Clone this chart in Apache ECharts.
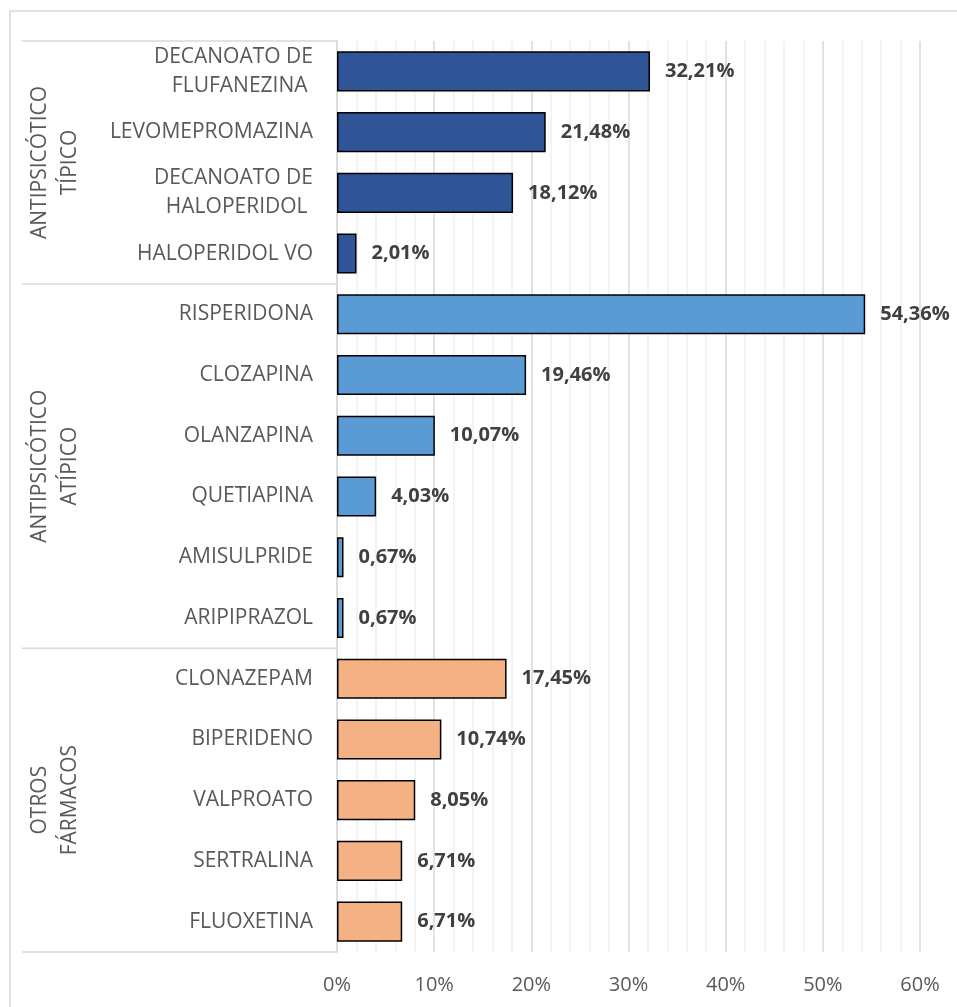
<!DOCTYPE html>
<html>
<head>
<meta charset="utf-8">
<script src="https://cdn.jsdelivr.net/npm/echarts@6/dist/echarts.min.js"></script>
<style>
  html, body { margin: 0; padding: 0; background: #fff; }
  #chart { width: 957px; height: 1007px; }
</style>
</head>
<body>
<div id="chart"></div>
<script>
  // categorias y valores (%)
  var categories = [
    'DECANOATO DE\nFLUFANEZINA ', 'LEVOMEPROMAZINA', 'DECANOATO DE\nHALOPERIDOL ', 'HALOPERIDOL VO',
    'RISPERIDONA', 'CLOZAPINA', 'OLANZAPINA', 'QUETIAPINA', 'AMISULPRIDE', 'ARIPIPRAZOL',
    'CLONAZEPAM', 'BIPERIDENO', 'VALPROATO', 'SERTRALINA', 'FLUOXETINA'
  ]
  var values = [32.21, 21.48, 18.12, 2.01, 54.36, 19.46, 10.07, 4.03, 0.67, 0.67, 17.45, 10.74, 8.05, 6.71, 6.71]
  // grupos: nombre, numero de categorias
  var groupNames = ['ANTIPSICÓTICO\nTÍPICO', 'ANTIPSICÓTICO\nATÍPICO', 'OTROS\nFÁRMACOS']
  var groupSizes = [4, 6, 5]
  var groupColors = ['#2F5597', '#5B9BD5', '#F4B183']
  var xTicks = [0, 10, 20, 30, 40, 50, 60]

  var font = '"Open Sans", sans-serif'
  var chart = echarts.init(document.getElementById('chart'))

  var barData = []
  var g = 0, count = 0
  values.forEach(function (v, i) {
    if (count >= groupSizes[g]) { g++; count = 0 }
    count++
    barData.push({ value: v, itemStyle: { color: groupColors[g] } })
  })

  chart.setOption({
    backgroundColor: '#fff',
    animation: false,
    grid: { left: 337, right: 37, top: 41, bottom: 55 },
    xAxis: {
      type: 'value',
      min: xTicks[0],
      max: xTicks[xTicks.length - 1],
      interval: 10,
      axisLine: { show: false },
      axisTick: { show: false },
      axisLabel: {
        margin: 23,
        color: '#595959',
        fontSize: 20,
        fontFamily: font,
        formatter: '{value}%'
      },
      splitLine: { lineStyle: { color: '#d9d9d9', width: 1.5 } },
      minorTick: { show: false, splitNumber: 5 },
      minorSplitLine: { show: true, lineStyle: { color: '#efefef', width: 1.5 } }
    },
    yAxis: {
      type: 'category',
      inverse: true,
      data: categories,
      axisLine: { lineStyle: { color: '#d9d9d9', width: 1.5 } },
      axisTick: { show: false },
      axisLabel: {
        margin: 24,
        color: '#595959',
        fontSize: 21,
        lineHeight: 29,
        fontFamily: font,
        interval: 0
      }
    },
    series: [{
      type: 'bar',
      data: barData,
      barCategoryGap: '34%',
      itemStyle: { borderColor: '#000', borderWidth: 1.5 },
      label: {
        show: true,
        position: 'right',
        distance: 15,
        color: '#404040',
        fontWeight: 'bold',
        fontSize: 20,
        fontFamily: font,
        formatter: function (p) { return p.value.toFixed(2).replace('.', ',') + '%' }
      }
    }]
  })

  // lineas de separacion y nombres de grupo
  var graphics = [{
    type: 'rect',
    shape: { x: 10, y: 11, width: 960, height: 1010 },
    style: { fill: null, stroke: '#d9d9d9', lineWidth: 1.5 },
    silent: true
  }]
  var half = (chart.convertToPixel({ yAxisIndex: 0 }, categories[1]) - chart.convertToPixel({ yAxisIndex: 0 }, categories[0])) / 2
  var axisX = chart.convertToPixel({ xAxisIndex: 0 }, 0)
  var start = 0
  groupSizes.forEach(function (n, gi) {
    var yTop = chart.convertToPixel({ yAxisIndex: 0 }, categories[start]) - half
    var yBot = chart.convertToPixel({ yAxisIndex: 0 }, categories[start + n - 1]) + half
    graphics.push({
      type: 'line',
      shape: { x1: 22, y1: yTop, x2: axisX, y2: yTop },
      style: { stroke: '#d9d9d9', lineWidth: 1.5 },
      silent: true
    })
    if (gi === groupSizes.length - 1) {
      graphics.push({
        type: 'line',
        shape: { x1: 22, y1: yBot, x2: axisX, y2: yBot },
        style: { stroke: '#d9d9d9', lineWidth: 1.5 },
        silent: true
      })
    }
    graphics.push({
      type: 'text',
      x: 55,
      y: (yTop + yBot) / 2,
      rotation: Math.PI / 2,
      style: {
        text: groupNames[gi],
        fill: '#595959',
        font: '21px ' + font,
        lineHeight: 30,
        align: 'center',
        verticalAlign: 'middle'
      },
      silent: true
    })
    start += n
  })
  chart.setOption({ graphic: graphics })
</script>
</body>
</html>
